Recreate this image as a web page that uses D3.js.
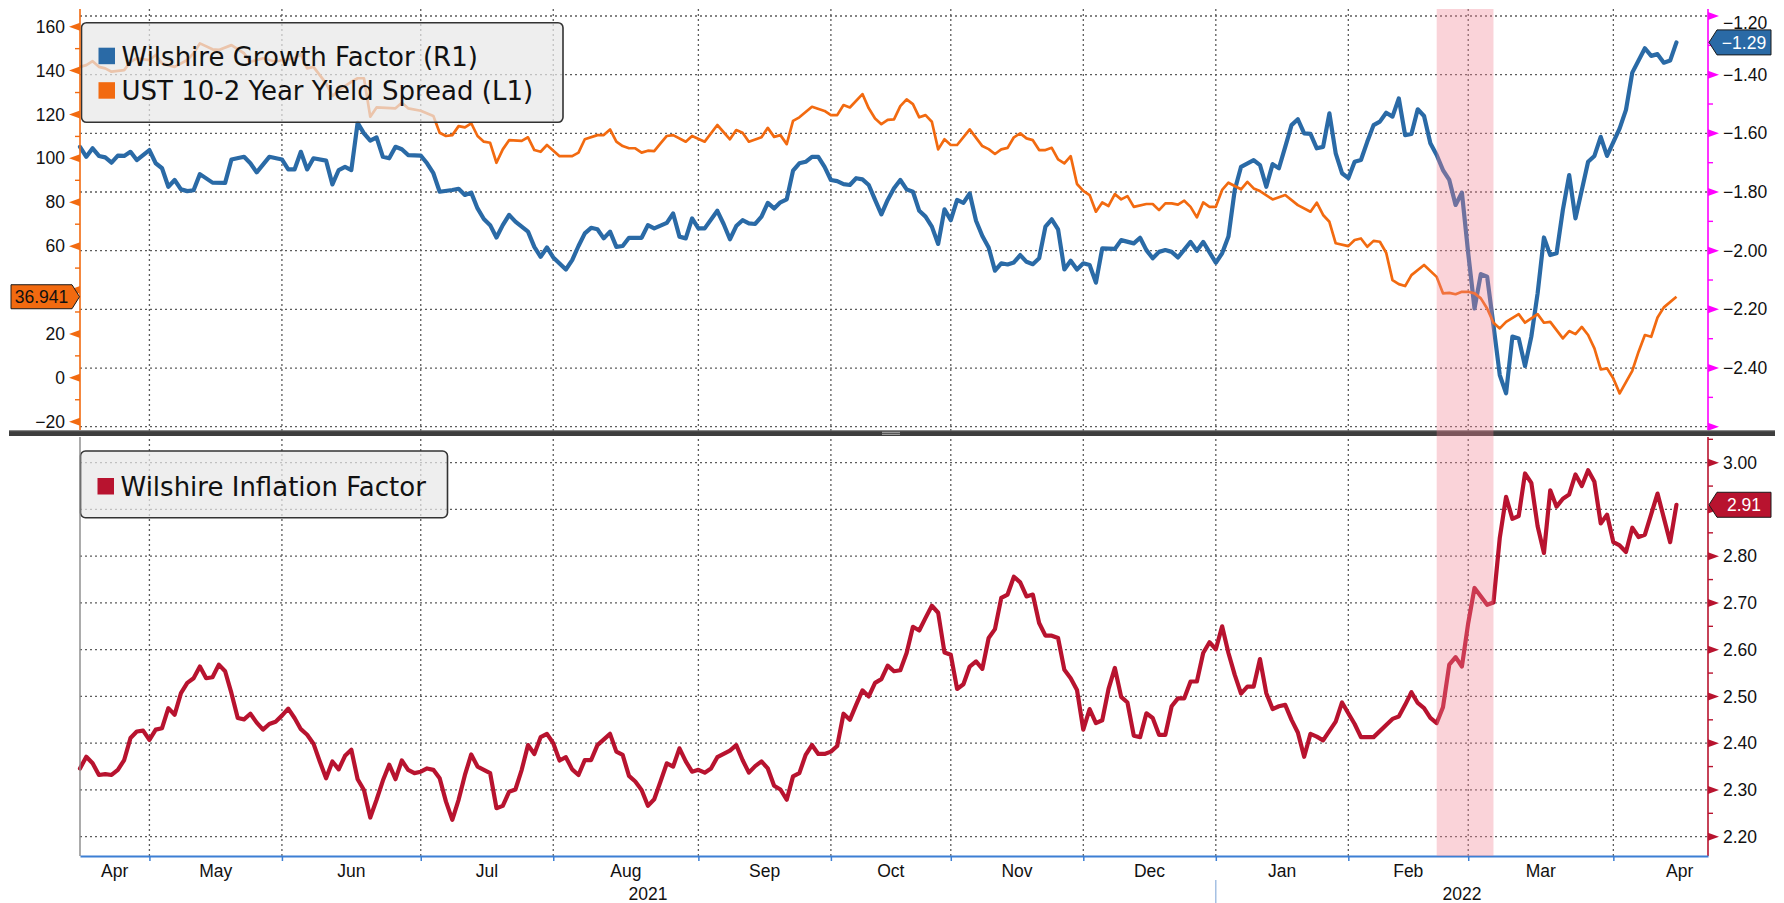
<!DOCTYPE html>
<html>
<head>
<meta charset="utf-8">
<script src="https://cdn.jsdelivr.net/npm/d3@7"></script>
<style>
  body { margin: 0; background: #fff; }
  svg { display: block; }
</style>
</head>
<body>
<div id="chart"></div>
<script>
// x values are trading-day numbers counted from the first day shown (mid April 2021)
const growthFactor = [
  [0,-1.646],[1,-1.680],[2,-1.651],[3,-1.677],[4,-1.682],[5,-1.700],[6,-1.676],[7,-1.677],[8,-1.663],[9,-1.691],
  [11,-1.657],[12,-1.702],[13,-1.719],[14,-1.782],[15,-1.759],[16,-1.791],[17,-1.797],[18,-1.794],[19,-1.739],[21,-1.768],
  [23,-1.769],[24,-1.689],[26,-1.680],[27,-1.702],[28,-1.733],[30,-1.680],[32,-1.689],[33,-1.723],[34,-1.723],[35,-1.663],
  [36,-1.723],[37,-1.685],[39,-1.693],[40,-1.774],[41,-1.725],[42,-1.714],[43,-1.725],[44,-1.564],[45,-1.600],[46,-1.625],
  [47,-1.614],[48,-1.680],[49,-1.685],[50,-1.646],[51,-1.654],[52,-1.674],[54,-1.676],[55,-1.702],[56,-1.736],[57,-1.799],
  [59,-1.793],[60,-1.789],[61,-1.810],[62,-1.802],[63,-1.856],[64,-1.892],[65,-1.913],[66,-1.955],[67,-1.913],[68,-1.878],
  [69,-1.901],[71,-1.935],[72,-1.987],[73,-2.021],[74,-1.989],[75,-2.023],[77,-2.064],[78,-2.032],[79,-1.984],[80,-1.941],
  [81,-1.922],[82,-1.927],[83,-1.958],[84,-1.935],[85,-1.987],[86,-1.984],[87,-1.956],[89,-1.956],[90,-1.913],[91,-1.924],
  [93,-1.905],[94,-1.873],[95,-1.952],[96,-1.958],[97,-1.890],[98,-1.924],[99,-1.924],[101,-1.864],[102,-1.909],[103,-1.961],
  [104,-1.916],[105,-1.896],[106,-1.907],[107,-1.909],[108,-1.884],[109,-1.837],[110,-1.856],[111,-1.835],[112,-1.825],[113,-1.727],
  [114,-1.702],[115,-1.697],[116,-1.680],[117,-1.680],[118,-1.714],[119,-1.759],[120,-1.763],[121,-1.773],[122,-1.776],[123,-1.753],
  [124,-1.757],[125,-1.776],[126,-1.827],[127,-1.876],[128,-1.827],[129,-1.787],[130,-1.759],[131,-1.791],[132,-1.799],[133,-1.864],
  [134,-1.884],[135,-1.918],[136,-1.977],[137,-1.859],[138,-1.896],[139,-1.827],[140,-1.837],[141,-1.805],[142,-1.898],[143,-1.950],
  [144,-1.989],[145,-2.068],[146,-2.043],[147,-2.047],[148,-2.040],[149,-2.015],[150,-2.038],[151,-2.046],[152,-2.026],[153,-1.918],
  [154,-1.893],[155,-1.927],[156,-2.064],[157,-2.034],[158,-2.064],[159,-2.043],[160,-2.049],[161,-2.109],[162,-1.992],[164,-1.994],
  [165,-1.964],[167,-1.975],[168,-1.956],[169,-1.998],[170,-2.026],[171,-2.004],[172,-1.998],[173,-2.004],[174,-2.023],[176,-1.970],
  [177,-2.000],[178,-1.970],[180,-2.041],[181,-2.009],[182,-1.952],[183,-1.793],[184,-1.714],[186,-1.691],[187,-1.708],[188,-1.782],
  [189,-1.705],[190,-1.719],[191,-1.646],[192,-1.572],[193,-1.552],[194,-1.600],[195,-1.602],[196,-1.651],[197,-1.646],[198,-1.532],
  [199,-1.668],[200,-1.736],[201,-1.753],[202,-1.697],[203,-1.691],[204,-1.629],[205,-1.572],[206,-1.560],[207,-1.530],[208,-1.543],
  [209,-1.481],[210,-1.606],[211,-1.602],[212,-1.518],[213,-1.541],[214,-1.634],[215,-1.674],[216,-1.725],[217,-1.759],[218,-1.844],
  [219,-1.802],[220,-2.009],[221,-2.197],[222,-2.080],[223,-2.089],[224,-2.254],[225,-2.424],[226,-2.486],[227,-2.293],[228,-2.299],
  [229,-2.393],[230,-2.293],[231,-2.145],[232,-1.955],[233,-2.015],[234,-2.009],[235,-1.861],[236,-1.742],[237,-1.890],[239,-1.697],
  [240,-1.677],[241,-1.612],[242,-1.677],[244,-1.583],[245,-1.520],[246,-1.393],[248,-1.310],[249,-1.336],[250,-1.330],[251,-1.359],
  [252,-1.352],[253,-1.29]
];

const yieldSpread = [
  [0,141.7],[1,142.5],[2,144.3],[3,141.7],[4,141.0],[5,139.5],[7,140.2],[8,144.0],[9,145.6],[11,144.8],
  [12,147.1],[13,143.3],[15,141.7],[17,144.8],[18,147.9],[19,152.4],[21,149.7],[22,149.4],[24,151.6],[26,147.9],
  [27,144.0],[29,145.6],[31,144.0],[32,144.8],[34,145.6],[35,147.5],[36,141.0],[37,141.7],[39,134.2],[40,128.4],
  [41,131.1],[43,134.9],[44,136.5],[45,136.5],[46,119.0],[47,123.2],[50,122.8],[51,125.3],[52,122.8],[54,121.7],
  [56,119.3],[57,111.7],[58,110.2],[59,110.6],[60,114.7],[61,114.1],[62,116.0],[63,110.2],[64,107.6],[65,107.1],
  [66,98.0],[67,104.1],[68,108.3],[70,108.0],[71,109.6],[72,103.8],[73,103.0],[74,106.1],[76,101.0],[78,101.0],
  [79,102.6],[80,108.7],[82,110.6],[83,110.6],[84,113.2],[85,107.6],[86,105.6],[87,104.6],[88,104.6],[89,102.6],
  [90,103.5],[91,103.3],[92,106.8],[93,110.2],[94,110.6],[96,107.6],[97,110.2],[99,107.6],[101,115.2],[103,108.7],
  [104,112.9],[105,111.7],[106,107.6],[108,109.6],[109,113.9],[110,109.8],[111,110.6],[112,106.5],[113,117.1],[114,118.7],
  [116,123.5],[118,121.6],[119,119.7],[120,119.7],[121,124.3],[122,123.2],[124,129.3],[125,122.8],[126,118.2],[127,115.6],
  [128,117.5],[129,117.8],[130,123.8],[131,126.9],[132,124.7],[133,118.7],[134,119.7],[135,116.7],[136,104.1],[137,108.7],
  [138,106.1],[139,106.1],[141,113.2],[143,105.6],[144,104.2],[145,102.0],[146,104.1],[147,104.8],[148,109.6],[149,111.4],
  [150,109.1],[151,108.3],[152,103.8],[153,103.8],[154,104.8],[155,99.5],[156,97.7],[157,101.0],[158,88.3],[159,85.2],
  [160,83.3],[161,75.7],[162,79.9],[163,78.3],[164,83.7],[165,81.3],[166,82.8],[167,77.9],[169,79.2],[170,79.2],
  [171,76.4],[172,79.5],[173,79.5],[174,78.9],[175,80.7],[176,77.9],[177,73.1],[178,79.9],[179,77.9],[180,77.9],
  [181,85.6],[182,88.9],[184,85.9],[185,89.3],[186,86.3],[187,85.1],[189,81.3],[191,83.3],[193,78.7],[195,75.7],
  [196,79.8],[197,74.2],[198,71.1],[199,61.3],[201,60.0],[202,62.8],[203,63.5],[204,59.7],[205,62.4],[206,62.0],
  [207,57.0],[208,44.5],[209,42.7],[210,41.8],[211,46.8],[213,51.4],[215,46.0],[216,38.5],[217,38.7],[218,38.1],
  [219,39.2],[220,39.2],[221,38.5],[222,36.2],[223,31.6],[224,25.1],[225,22.5],[226,25.5],[228,29.0],[229,25.1],
  [231,29.0],[232,25.1],[233,25.5],[235,18.0],[236,21.3],[237,19.9],[238,23.2],[239,19.5],[240,13.4],[241,3.8],
  [242,4.3],[243,-0.3],[244,-7.1],[246,3.2],[247,11.9],[248,19.5],[249,18.7],[250,27.5],[251,32.1],[253,36.941]
];

const inflationFactor = [
  [0,2.346],[1,2.371],[2,2.357],[3,2.332],[4,2.334],[5,2.332],[6,2.343],[7,2.364],[8,2.411],[9,2.425],
  [10,2.427],[11,2.407],[12,2.429],[13,2.432],[14,2.475],[15,2.461],[16,2.507],[17,2.529],[18,2.539],[19,2.564],
  [20,2.539],[21,2.541],[22,2.568],[23,2.554],[24,2.507],[25,2.454],[26,2.451],[27,2.463],[28,2.444],[29,2.429],
  [30,2.441],[31,2.446],[32,2.459],[33,2.474],[34,2.454],[35,2.430],[36,2.418],[37,2.399],[38,2.361],[39,2.325],
  [40,2.361],[41,2.344],[42,2.373],[43,2.386],[44,2.323],[45,2.300],[46,2.241],[47,2.279],[48,2.320],[49,2.354],
  [50,2.323],[51,2.363],[52,2.343],[53,2.336],[54,2.339],[55,2.346],[56,2.343],[57,2.325],[58,2.275],[59,2.236],
  [60,2.279],[61,2.332],[62,2.376],[63,2.350],[65,2.336],[66,2.261],[67,2.266],[68,2.296],[69,2.301],[70,2.343],
  [71,2.396],[72,2.377],[73,2.413],[74,2.420],[75,2.400],[76,2.363],[77,2.370],[78,2.344],[79,2.332],[80,2.364],
  [81,2.364],[82,2.396],[84,2.420],[85,2.382],[86,2.375],[87,2.330],[88,2.318],[89,2.300],[90,2.266],[91,2.280],
  [92,2.318],[93,2.357],[94,2.350],[95,2.389],[96,2.361],[97,2.339],[98,2.343],[99,2.337],[100,2.346],[101,2.370],
  [103,2.384],[104,2.396],[105,2.364],[106,2.337],[107,2.351],[108,2.361],[109,2.346],[110,2.309],[111,2.301],[112,2.279],
  [113,2.329],[114,2.336],[115,2.375],[116,2.396],[117,2.377],[118,2.377],[119,2.382],[120,2.394],[121,2.463],[122,2.450],
  [123,2.482],[124,2.513],[125,2.500],[126,2.529],[127,2.537],[128,2.566],[129,2.554],[130,2.556],[131,2.593],[132,2.649],
  [133,2.641],[134,2.668],[135,2.694],[136,2.679],[137,2.594],[138,2.589],[139,2.516],[140,2.526],[141,2.564],[142,2.575],
  [143,2.559],[144,2.625],[145,2.644],[146,2.711],[147,2.718],[148,2.756],[149,2.744],[150,2.714],[151,2.718],[152,2.657],
  [153,2.630],[154,2.630],[155,2.625],[156,2.557],[157,2.539],[158,2.514],[159,2.429],[160,2.473],[161,2.443],[162,2.449],
  [163,2.516],[164,2.561],[165,2.499],[166,2.487],[167,2.416],[168,2.413],[169,2.464],[170,2.454],[171,2.418],[172,2.418],
  [173,2.479],[174,2.496],[175,2.496],[176,2.532],[177,2.532],[178,2.593],[179,2.616],[180,2.601],[181,2.650],[182,2.593],
  [183,2.546],[184,2.506],[185,2.521],[186,2.521],[187,2.580],[188,2.507],[189,2.473],[190,2.479],[191,2.482],[192,2.450],
  [193,2.423],[194,2.371],[195,2.420],[196,2.414],[197,2.406],[199,2.446],[200,2.487],[202,2.441],[203,2.413],[204,2.413],
  [205,2.413],[207,2.439],[208,2.452],[209,2.457],[210,2.482],[211,2.509],[212,2.486],[213,2.475],[214,2.454],[215,2.443],
  [216,2.477],[217,2.568],[218,2.584],[219,2.564],[220,2.657],[221,2.732],[223,2.696],[224,2.701],[225,2.839],[226,2.927],
  [227,2.880],[228,2.886],[229,2.977],[230,2.957],[231,2.864],[232,2.807],[233,2.941],[234,2.906],[235,2.923],[236,2.932],
  [237,2.975],[238,2.950],[239,2.984],[240,2.959],[241,2.870],[242,2.889],[243,2.830],[244,2.823],[245,2.809],[246,2.861],
  [247,2.841],[248,2.846],[250,2.934],[252,2.830],[253,2.91]
];

// calendar of the x axis (first trading day of each month)
const monthNames = ["Apr", "May", "Jun", "Jul", "Aug", "Sep", "Oct", "Nov", "Dec", "Jan", "Feb", "Mar", "Apr"];
const monthStartDay = [-11, 11, 32, 54, 75, 98, 119, 138, 159, 180, 201, 220, 243];
const monthAfterLast = 264;
const yearLabels = ["2021", "2022"];
const yearStartDay = [0, 180];
const shadedDays = [215, 224];

const spreadTicks = [-20, 0, 20, 40, 60, 80, 100, 120, 140, 160];
const growthTicks = [-2.6, -2.4, -2.2, -2.0, -1.8, -1.6, -1.4, -1.2];
const inflationTicks = [2.2, 2.3, 2.4, 2.5, 2.6, 2.7, 2.8, 2.9, 3.0];

const legendTop = ["Wilshire Growth Factor (R1)", "UST 10-2 Year Yield Spread (L1)"];
const legendBottom = ["Wilshire Inflation Factor"];

const BLUE = "#2a6aa6", ORANGE = "#f26a10", CRIMSON = "#b8132f", MAGENTA = "#ff00ff";
const TICK_FONT = "'Liberation Sans', Arial, sans-serif";
const LEGEND_FONT = "'DejaVu Sans', Verdana, sans-serif";

const W = 1784, H = 903;
const left = 80, right = 1708;
const lastDay = 258;
const top1 = 9, bottom1 = 430;   // upper pane
const top2 = 437, bottom2 = 856; // lower pane

const svg = d3.select("#chart").append("svg")
  .attr("width", W).attr("height", H)
  .style("font-family", TICK_FONT);

const x = d3.scaleLinear().domain([0, lastDay]).range([left, right]);
const yGrowth = d3.scaleLinear().domain([-2.6, -1.2]).range([426.7, 16]);
const ySpread = d3.scaleLinear().domain([-20, 160]).range([421.7, 26.7]);
const yInfl = d3.scaleLinear().domain([2.2, 3.0]).range([836.7, 462.7]);

const lastGrowth = growthFactor[growthFactor.length - 1][1];
const lastSpread = yieldSpread[yieldSpread.length - 1][1];
const lastInfl = inflationFactor[inflationFactor.length - 1][1];

// a tick label that sits under a last-value tag is hidden by it
const clearOf = (scale, v) => d => Math.abs(scale(d) - scale(v)) > 14;

const innerMonths = monthStartDay.filter(d => d > 0 && d < lastDay);

// dotted grid
const grid = svg.append("g")
  .attr("stroke", "#5c5c5c").attr("stroke-width", 1.3).attr("stroke-dasharray", "2,3");
grid.selectAll(null).data(innerMonths).enter().append("line")
  .attr("x1", d => x(d)).attr("x2", d => x(d)).attr("y1", top1).attr("y2", bottom2);
grid.selectAll(null).data(growthTicks).enter().append("line")
  .attr("x1", left).attr("x2", right).attr("y1", d => yGrowth(d)).attr("y2", d => yGrowth(d));
grid.selectAll(null).data(inflationTicks).enter().append("line")
  .attr("x1", left).attr("x2", right).attr("y1", d => yInfl(d)).attr("y2", d => yInfl(d));

// series
const growthLine = d3.line().x(d => x(d[0])).y(d => yGrowth(d[1]));
const spreadLine = d3.line().x(d => x(d[0])).y(d => ySpread(d[1]));
const inflLine = d3.line().x(d => x(d[0])).y(d => yInfl(d[1]));

svg.append("path").datum(growthFactor).attr("d", growthLine)
  .attr("fill", "none").attr("stroke", BLUE).attr("stroke-width", 4.2)
  .attr("stroke-linejoin", "round").attr("stroke-linecap", "round");
svg.append("path").datum(yieldSpread).attr("d", spreadLine)
  .attr("fill", "none").attr("stroke", ORANGE).attr("stroke-width", 2.7)
  .attr("stroke-linejoin", "round");
svg.append("path").datum(inflationFactor).attr("d", inflLine)
  .attr("fill", "none").attr("stroke", CRIMSON).attr("stroke-width", 4.2)
  .attr("stroke-linejoin", "round").attr("stroke-linecap", "round");

// legends
function legend(g, items, colors, box) {
  g.append("rect")
    .attr("x", box.x).attr("y", box.y).attr("width", box.w).attr("height", box.h)
    .attr("rx", 5).attr("fill", "rgba(232,232,232,0.72)")
    .attr("stroke", "#333").attr("stroke-width", 1.6);
  const row = g.selectAll(null).data(items).enter().append("g")
    .attr("transform", (d, i) => `translate(${box.x + 17},${box.y + box.first + i * 34.5})`);
  row.append("rect").attr("x", 0).attr("y", -18).attr("width", 16.5).attr("height", 16.5)
    .attr("fill", (d, i) => colors[i]);
  row.append("text").attr("x", 23).attr("y", 0)
    .attr("font-family", LEGEND_FONT).attr("font-size", 26).attr("fill", "#111")
    .text(d => d);
}
legend(svg.append("g"), legendTop, [BLUE, ORANGE], { x: 81.5, y: 22.7, w: 481.5, h: 99.6, first: 43 });
legend(svg.append("g"), legendBottom, [CRIMSON], { x: 80.5, y: 451, w: 367, h: 66.7, first: 45 });

// left axis of the upper pane (spread)
const axL = svg.append("g").attr("transform", `translate(${left},0)`)
  .call(d3.axisLeft(ySpread).tickValues(spreadTicks.filter(clearOf(ySpread, lastSpread)))
    .tickSize(0).tickPadding(15).tickFormat(d3.format("d")));
axL.select(".domain").remove();
axL.attr("font-family", TICK_FONT).attr("font-size", 17.5);
axL.selectAll("text").attr("fill", "#111");
axL.append("line").attr("y1", top1).attr("y2", bottom1).attr("stroke", ORANGE).attr("stroke-width", 1.6);
axL.selectAll(null).data(d3.range(-10, 160, 20)).enter().append("line")
  .attr("x1", -5).attr("x2", 0).attr("y1", d => ySpread(d)).attr("y2", d => ySpread(d))
  .attr("stroke", ORANGE).attr("stroke-width", 1.4);
axL.selectAll(null).data(spreadTicks).enter().append("path")
  .attr("d", d => `M0,${ySpread(d) - 4}L-11,${ySpread(d)}L0,${ySpread(d) + 4}Z`).attr("fill", ORANGE);

// right axes
function rightAxis(scale, ticks, labelled, minors, color, y0, y1) {
  const g = svg.append("g").attr("transform", `translate(${right},0)`)
    .call(d3.axisRight(scale).tickValues(labelled).tickSize(0).tickPadding(15).tickFormat(d3.format(".2f")));
  g.select(".domain").remove();
  g.attr("font-family", TICK_FONT).attr("font-size", 17.5);
  g.selectAll("text").attr("fill", "#111");
  g.append("line").attr("y1", y0).attr("y2", y1).attr("stroke", color).attr("stroke-width", 1.6);
  g.selectAll(null).data(minors).enter().append("line")
    .attr("x1", 0).attr("x2", 5).attr("y1", d => scale(d)).attr("y2", d => scale(d))
    .attr("stroke", color).attr("stroke-width", 1.4);
  g.selectAll(null).data(ticks).enter().append("path")
    .attr("d", d => `M0,${scale(d) - 4}L11,${scale(d)}L0,${scale(d) + 4}Z`).attr("fill", color);
  return g;
}
const axR1 = rightAxis(yGrowth, growthTicks,
  growthTicks.filter(d => d > -2.5).filter(clearOf(yGrowth, lastGrowth)),
  d3.range(-2.5, -1.2, 0.2), MAGENTA, top1, bottom1);
axR1.selectAll(".tick").filter(d => d === -1.2).select("text").attr("dy", "0.72em");

rightAxis(yInfl, inflationTicks, inflationTicks.filter(clearOf(yInfl, lastInfl)),
  d3.range(2.25, 3.06, 0.1), CRIMSON, top2, bottom2);

// lower pane left edge
svg.append("line").attr("x1", left).attr("x2", left).attr("y1", top2).attr("y2", bottom2)
  .attr("stroke", "#888").attr("stroke-width", 1.4);

// bottom time axis
const axB = svg.append("g").attr("transform", `translate(0,${bottom2})`)
  .call(d3.axisBottom(x).tickValues(innerMonths).tickSize(5).tickSizeOuter(0).tickFormat(""));
axB.select(".domain").attr("stroke", "#3c7fd4").attr("stroke-width", 1.8);
axB.selectAll(".tick line").attr("stroke", "#3c7fd4").attr("stroke-width", 1.5);

const monthMid = monthNames.map((m, i) => {
  const s = Math.max(monthStartDay[i], 0);
  const e = i + 1 < monthStartDay.length ? monthStartDay[i + 1] : monthAfterLast;
  return (s + e) / 2;
});
svg.append("g").selectAll(null).data(monthNames).enter().append("text")
  .attr("x", (d, i) => x(monthMid[i])).attr("y", 876.5)
  .attr("text-anchor", "middle").attr("font-size", 17.5).attr("fill", "#111")
  .text(d => d);
svg.append("g").selectAll(null).data(yearLabels).enter().append("text")
  .attr("x", (d, i) => x(((yearStartDay[i]) + (yearStartDay[i + 1] ?? lastDay)) / 2)).attr("y", 900)
  .attr("text-anchor", "middle").attr("font-size", 17.5).attr("fill", "#111")
  .text(d => d);
svg.append("line").attr("x1", x(yearStartDay[1])).attr("x2", x(yearStartDay[1]))
  .attr("y1", 880).attr("y2", H).attr("stroke", "#8fb1dc").attr("stroke-width", 1.2);

// pane divider
svg.append("rect").attr("x", 9).attr("y", 430.5).attr("width", 1766).attr("height", 5.5).attr("fill", "#3e3e3e");
svg.append("line").attr("x1", 9).attr("x2", 1775).attr("y1", 430.8).attr("y2", 430.8).attr("stroke", "#777").attr("stroke-width", 0.8);
[432.3, 434.3].forEach(yy => svg.append("line").attr("x1", 882).attr("x2", 900).attr("y1", yy).attr("y2", yy)
  .attr("stroke", "#b0b0b0").attr("stroke-width", 1));

// shaded period
svg.append("rect")
  .attr("x", x(shadedDays[0])).attr("width", x(shadedDays[1]) - x(shadedDays[0]))
  .attr("y", top1).attr("height", bottom2 - top1)
  .attr("fill", "rgb(240,128,145)").attr("opacity", 0.35);

// last value tags
function tagRight(yv, label, fill) {
  const g = svg.append("g").attr("transform", `translate(${right + 1},${yv})`);
  g.append("path").attr("d", "M0,0L8,-12.5H62V12.5H8Z")
    .attr("fill", fill).attr("stroke", "#1a1a1a").attr("stroke-width", 1);
  g.append("text").attr("x", 35).attr("y", 0).attr("dy", "0.35em")
    .attr("text-anchor", "middle").attr("font-size", 17.5).attr("fill", "#fff").text(label);
}
tagRight(yGrowth(lastGrowth), d3.format(".2f")(lastGrowth), BLUE);
tagRight(yInfl(lastInfl), d3.format(".2f")(lastInfl), CRIMSON);

const tagL = svg.append("g").attr("transform", `translate(${left - 0.5},${ySpread(lastSpread)})`);
tagL.append("path").attr("d", "M0,0L-7.5,-12H-68.5V12H-7.5Z")
  .attr("fill", ORANGE).attr("stroke", "#1a1a1a").attr("stroke-width", 1);
tagL.append("text").attr("x", -38).attr("y", 0).attr("dy", "0.35em")
  .attr("text-anchor", "middle").attr("font-size", 17.5).attr("fill", "#111")
  .text(d3.format(".3f")(lastSpread));
</script>
</body>
</html>
